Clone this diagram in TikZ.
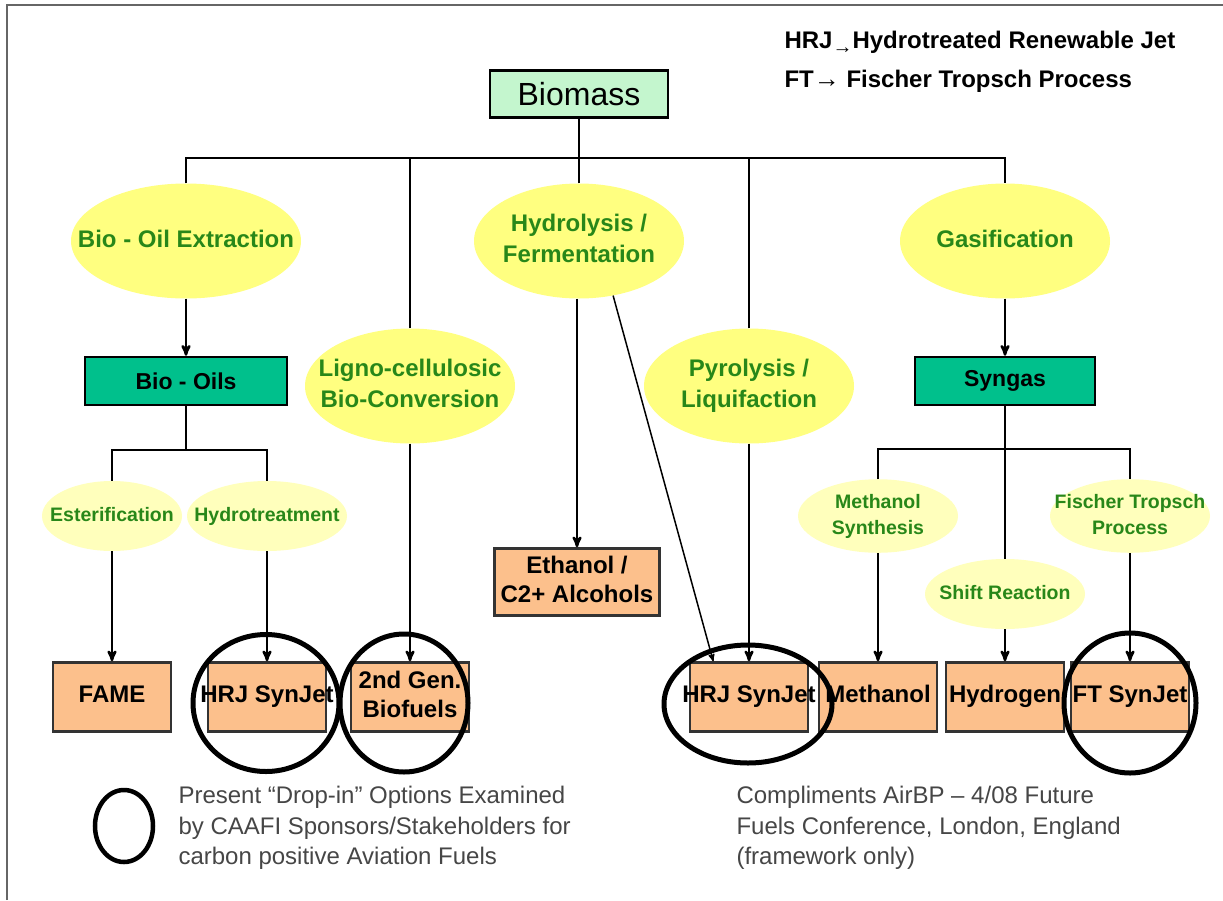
\documentclass[tikz,border=0pt]{standalone}
\usepackage{fontspec}
\setmainfont{Liberation Sans}
\usetikzlibrary{arrows,shapes.geometric,positioning}

\definecolor{biogreen}{RGB}{196,246,206}
\definecolor{boxteal}{RGB}{0,192,140}
\definecolor{peach}{RGB}{252,192,140}
\definecolor{ellbig}{RGB}{255,255,128}
\definecolor{ellsmall}{RGB}{255,255,188}
\definecolor{procgreen}{RGB}{40,135,25}
\definecolor{notegray}{RGB}{70,70,70}

\newcommand\ctext[1]{\makebox[0pt]{\begin{tabular}{@{}c@{}}#1\end{tabular}}}

\tikzset{
  link/.style={line width=2.5pt},
  flow/.style={link,->},
  bigproc/.style={ellipse, fill=ellbig, text=procgreen, inner sep=0pt,
    minimum width=210pt, minimum height=115pt, font=\bfseries\fontsize{24}{31}\selectfont},
  smallproc/.style={ellipse, fill=ellsmall, text=procgreen, inner sep=0pt,
    minimum width=160pt, minimum height=70pt, font=\bfseries\fontsize{19.5}{26}\selectfont},
  feed/.style={rectangle, draw=black, line width=2.5pt, fill=boxteal, inner sep=0pt,
    minimum width=190pt, minimum height=48pt, font=\bfseries\fontsize{23}{28}\selectfont},
  prod/.style={rectangle, draw=black!80, line width=2.5pt, fill=peach, inner sep=0pt,
    minimum width=118pt, minimum height=69pt, font=\bfseries\fontsize{24}{29}\selectfont},
  ring/.style={ellipse, draw=black, line width=5pt, inner sep=0pt},
  note/.style={anchor=west, align=left, text=notegray, font=\fontsize{24}{30.5}\selectfont},
}

\begin{document}
\begin{tikzpicture}[x=1pt,y=-1pt,>=stealth']
  \fill[white] (0,0) rectangle (1223,900);
  \useasboundingbox (0,0) rectangle (1223,900);
  \draw[black!60, line width=2pt] (7,900) -- (7,5) -- (1223,5);

  \node[rectangle, draw=black, line width=2.5pt, fill=biogreen, minimum width=178pt,
    minimum height=47pt, inner sep=0pt, font=\fontsize{32}{36}\selectfont] (bio) at (579,94) {Biomass};
  \node[anchor=west, align=left, font=\bfseries\fontsize{24}{39}\selectfont] (key) at (781,62)
    {HRJ{\fontsize{20}{20}\selectfont\raisebox{-5pt}{→}}Hydrotreated Renewable Jet\\
     FT{\fontsize{26}{26}\selectfont→} Fischer Tropsch Process};

  \node[bigproc, minimum width=230pt] (oilx) at (186,241) {\ctext{Bio - Oil Extraction}};
  \node[bigproc] (hyd) at (579,241) {\ctext{Hydrolysis /\\Fermentation}};
  \node[bigproc] (gas) at (1005,241) {\ctext{Gasification}};
  \node[bigproc] (lig) at (410,386) {\ctext{Ligno-cellulosic\\Bio-Conversion}};
  \node[bigproc] (pyr) at (749,386) {\ctext{Pyrolysis /\\Liquifaction}};

  \node[feed, minimum width=202pt] (oils) at (186,381) {Bio - Oils};
  \node[feed, minimum width=180pt] (syn) at (1005,381) {Syngas};

  \node[smallproc, minimum width=140pt] (est) at (112,516) {\ctext{Esterification}};
  \node[smallproc] (hyt) at (267,516) {\ctext{Hydrotreatment}};
  \node[smallproc, minimum height=68pt] (mes) at (878,516) {\ctext{Methanol\\Synthesis}};
  \node[smallproc, minimum height=68pt] (ftp) at (1130,516) {\ctext{Fischer Tropsch\\Process}};
  \node[smallproc] (shr) at (1005,594) {\ctext{Shift Reaction}};

  \node[prod, minimum width=165pt, minimum height=67pt] (eth) at (577,582) {\ctext{Ethanol /\\C2+ Alcohols}};
  \node[prod] (fame) at (112,697) {\ctext{FAME}};
  \node[prod] (hrja) at (267,697) {\ctext{HRJ SynJet}};
  \node[prod] (gen) at (410,697) {\ctext{2nd Gen.\\Biofuels}};
  \node[prod] (hrjb) at (749,697) {\ctext{HRJ SynJet}};
  \node[prod] (meth) at (878,697) {\ctext{Methanol}};
  \node[prod] (hyg) at (1005,697) {\ctext{Hydrogen}};
  \node[prod] (ftj) at (1130,697) {\ctext{FT SynJet}};

  \coordinate (bus) at (579,158);
  \coordinate (obus) at (186,450);
  \coordinate (sbus) at (1005,449);
  \draw[link] (bio) -- (bus);
  \draw[link] (oilx) |- (bus) -| (gas);
  \draw[link] (lig) -- (lig |- bus);
  \draw[link] (hyd) -- (bus);
  \draw[link] (pyr) -- (pyr |- bus);

  \draw[flow] (oilx) -- (oils);
  \draw[link] (oils) -- (obus);
  \draw[link] (est) |- (obus) -| (hyt);
  \draw[flow] (est) -- (fame);
  \draw[flow] (hyt) -- (hrja);
  \draw[flow] (lig) -- (gen);
  \draw[flow] (hyd.south -| eth.north) -- (eth.north);
  \draw[->, line width=1.5pt] (hyd.-58) -- (hrjb.135);
  \draw[flow] (pyr) -- (hrjb);

  \draw[flow] (gas) -- (syn);
  \draw[link] (mes) |- (sbus) -| (ftp);
  \draw[link] (syn) -- (shr);
  \draw[flow] (mes) -- (meth);
  \draw[flow] (shr) -- (hyg);
  \draw[flow] (ftp) -- (ftj);

  % drop-in options
  \node[ring, minimum width=146pt, minimum height=137pt] (ra) at (266,703) {};
  \node[ring, minimum width=128pt, minimum height=138pt] (rb) at (404,703) {};
  \node[ring, minimum width=168pt, minimum height=118pt] (rc) at (748,704) {};
  \node[ring, minimum width=132pt, minimum height=140pt] (rd) at (1130,703) {};

  \node[ring, line width=4.5pt, minimum width=58pt, minimum height=72pt] (keyring) at (124,826) {};
  \node[note] (dropnote) at (175,828)
    {Present “Drop-in” Options Examined\\by CAAFI Sponsors/Stakeholders for\\carbon positive Aviation Fuels};
  \node[note] (credit) at (733,828)
    {Compliments AirBP – 4/08 Future\\Fuels Conference, London, England\\(framework only)};
\end{tikzpicture}
\end{document}
